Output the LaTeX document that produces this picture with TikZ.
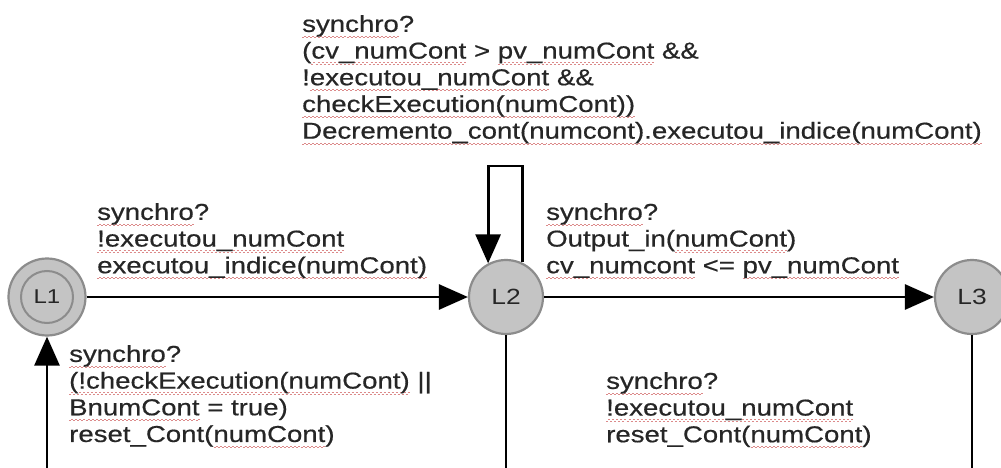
\documentclass[tikz,border=0pt]{standalone}
\usepackage{fontspec}
\setmainfont{Liberation Sans}[FakeStretch=1.2]
\newfontfamily\lblfont{Liberation Sans}[FakeStretch=1.2, FakeBold=0.5]
\usetikzlibrary{arrows.meta}
\definecolor{txt}{HTML}{262626}
\definecolor{locfill}{HTML}{C4C4C4}
\definecolor{locdraw}{HTML}{8C8C8C}
\definecolor{sqred}{HTML}{DC8A8A}
\newsavebox\wavebox
\newsavebox\wordbox
\newcommand\sq[1]{\sbox\wordbox{#1}\rlap{\raisebox{-5pt}[0pt][0pt]{\hbox to \wd\wordbox{\xleaders\copy\wavebox\hfil}}}\usebox\wordbox}
\begin{document}
\sbox\wavebox{\color{sqred}\rule[-1pt]{2pt}{0.9pt}\rule[0.2pt]{2pt}{0.9pt}}
\begin{tikzpicture}[x=1pt,y=-1pt,
  loc/.style={circle, minimum size=74pt, inner sep=0pt, fill=locfill, draw=locdraw, line width=2.2pt, text=txt, font=\fontsize{22}{22}\selectfont},
  ring/.style={draw=locdraw, line width=2pt},
  conn/.style={line width=2.8pt, black},
  edge/.style={conn, -{Triangle[length=29pt,width=25pt]}},
  lbl/.style={anchor=north west, inner sep=0pt, align=left, text=txt, font=\lblfont\fontsize{23}{26.7}\selectfont}]
\useasboundingbox (0,0) rectangle (1001,468);
\clip (0,0) rectangle (1001,468);
\fill[white] (0,0) rectangle (1001,468);

\node[loc, minimum size=77pt] (L1) at (47,297) {};
\draw[ring] (L1.center) circle (26pt);
\node[text=txt, font=\fontsize{20}{20}\selectfont, inner sep=0pt] (L1t) at (L1.center) {L1};
\node[loc] (L2) at (506,297) {L2};
\node[loc] (L3) at (972,297) {L3};

\coordinate (b1) at (L1 |- 0,470);
\coordinate (b2) at (L2 |- 0,470);
\coordinate (b3) at (L3 |- 0,470);
\coordinate (loopL) at (L2.118 |- 0,166);

\draw[edge] (b1) -- (L1);
\draw[edge] (L1) -- (L2);
\draw[edge] (L2) -- (L3);
\draw[conn] (L2) -- (b2);
\draw[conn] (L3) -- (b3);
\draw[edge] (L2.65) |- (loopL) -- (L2.118);

\node[lbl] (topl) at (302,15) {\sq{synchro}?\\(\sq{cv\_numCont} > \sq{pv\_numCont} \&\&\\!\sq{executou\_numCont} \&\&\\\sq{checkExecution(numCont))}\\\sq{Decremento\_cont(numcont).executou\_indice(numCont)}};
\node[lbl] (la) at (97,203) {\sq{synchro}?\\\sq{!executou\_numCont}\\\sq{executou\_indice(numCont)}};
\node[lbl] (lb) at (546,203) {\sq{synchro}?\\Output\_in(\sq{numCont})\\\sq{cv\_numcont} <= \sq{pv\_numCont}};
\node[lbl] (lc) at (69,345) {\sq{synchro}?\\\sq{(!checkExecution(numCont)} ||\\\sq{BnumCont} = true)\\reset\_Cont(\sq{numCont})};
\node[lbl] (ld) at (606,372) {\sq{synchro}?\\\sq{!executou\_numCont}\\reset\_Cont(\sq{numCont})};
\end{tikzpicture}
\end{document}
